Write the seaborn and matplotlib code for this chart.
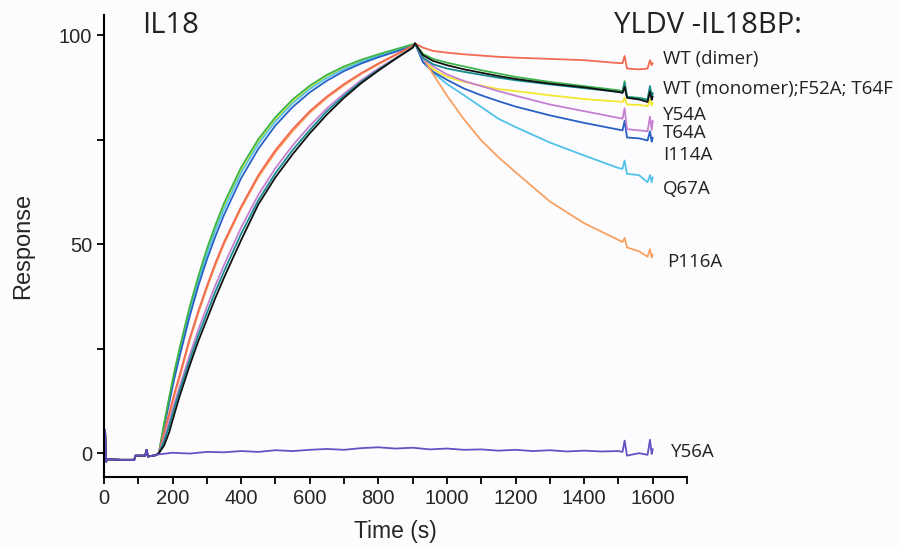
import numpy as np
import pandas as pd
import seaborn as sns
import matplotlib.pyplot as plt
from matplotlib.ticker import MultipleLocator

sns.set_theme(style="ticks")
plt.rcParams['font.family'] = ['Liberation Sans', 'DejaVu Sans']

# shared time points (s)
t_base = [0, 3, 6, 10, 20, 50, 88, 92, 120, 124, 128, 150, 155]
t_assoc = [160, 175, 190, 205, 220, 250, 275, 300, 325, 350, 400, 450, 500, 550, 600, 650, 700,
           750, 800, 850, 900]
t_dissoc = [907, 930, 960, 1000, 1050, 1100, 1150, 1200, 1300, 1400, 1500,
            1512, 1518, 1525, 1560, 1585, 1592, 1597, 1600]

baseline = [-1.0, 5.5, -2.0, -1.5, -1.5, -1.6, -1.6, -0.6, -0.6, 0.8, -0.8, -0.5, -0.3]

# association phase
wt_dimer_on = [0, 4.8, 9.5, 14.2, 18.5, 27.5, 34.0, 40.0, 45.5, 50.5, 59.0, 66.5, 72.5, 77.5, 81.8,
               85.3, 88.3, 90.9, 93.2, 95.3, 97.4]
p116a_on = [0, 4.5, 9.0, 13.7, 18.0, 27.0, 33.5, 39.4, 45.0, 50.0, 58.6, 66.0, 72.0, 77.0, 81.4,
            85.0, 88.0, 90.7, 93.0, 95.2, 97.4]
t64a_on = [0, 3.5, 7.5, 11.8, 15.8, 23.5, 29.5, 35.0, 40.2, 45.0, 54.0, 61.8, 68.2, 73.6, 78.3,
           82.5, 86.0, 89.2, 92.0, 94.5, 97.0]
t64f_on = [0, 2.8, 6.5, 10.8, 14.8, 22.3, 28.2, 33.5, 38.7, 43.5, 52.5, 60.5, 67.0, 72.5, 77.3,
           81.8, 85.5, 88.8, 91.7, 94.4, 97.0]
wt_mono_on = [0, 1.8, 5.0, 9.3, 13.5, 21.0, 26.8, 32.0, 37.2, 42.0, 51.0, 59.5, 66.0, 71.5, 76.5,
              81.0, 85.0, 88.5, 91.5, 94.3, 97.0]
f52a_on = [0, 7.0, 13.4, 19.5, 25.0, 35.1, 42.3, 48.9, 54.6, 59.8, 68.4, 75.1, 80.4, 84.6, 87.9,
           90.5, 92.5, 94.1, 95.4, 96.6, 97.8]
y54a_on = [0, 6.8, 13.0, 19.0, 24.5, 34.5, 41.7, 48.2, 53.9, 59.0, 67.7, 74.5, 79.9, 84.1, 87.5,
           90.1, 92.2, 93.8, 95.2, 96.4, 97.6]
q67a_on = [0, 6.6, 12.6, 18.6, 24.0, 34.0, 41.1, 47.6, 53.3, 58.4, 67.1, 74.0, 79.4, 83.7, 87.1,
           89.8, 91.9, 93.6, 95.0, 96.2, 97.5]
i114a_on = [0, 6.2, 12.0, 17.8, 23.0, 32.8, 40.0, 46.3, 51.9, 57.0, 65.8, 72.8, 78.4, 82.8, 86.3,
            89.1, 91.4, 93.2, 94.7, 96.0, 97.4]

# dissociation phase
wt_dimer_off = [98, 97.0, 96.2, 95.8, 95.4, 95.1, 94.8, 94.6, 94.3, 94.0, 93.3, 93.3, 95.0, 92.0, 91.8, 92.0, 94.0, 92.8, 93.3]
f52a_off = [98, 95.5, 94.3, 93.4, 92.5, 91.6, 90.8, 90.0, 88.8, 87.8, 86.8, 86.6, 89.0, 85.2, 85.0, 84.6, 87.5, 85.3, 86.0]
wt_mono_off = [98, 95.2, 93.8, 92.8, 91.8, 91.0, 90.2, 89.5, 88.4, 87.5, 86.4, 86.2, 87.6, 85.0, 84.6, 84.0, 86.5, 84.5, 85.3]
t64f_off = [98, 94.6, 93.0, 92.0, 91.2, 90.5, 89.8, 89.2, 88.2, 87.3, 86.4, 86.2, 88.5, 85.2, 84.9, 84.5, 87.8, 85.0, 86.2]
y54a_off = [98, 94.0, 91.8, 90.0, 88.8, 87.9, 87.1, 86.6, 85.6, 84.7, 84.1, 84.0, 85.0, 83.4, 83.3, 83.0, 84.5, 83.2, 83.8]
t64a_off = [98, 94.5, 92.5, 90.6, 89.0, 87.8, 86.6, 85.5, 83.4, 81.8, 80.2, 80.0, 82.5, 77.5, 77.2, 77.0, 80.5, 77.3, 79.5]
i114a_off = [98, 93.5, 91.2, 89.3, 87.2, 85.6, 84.2, 82.9, 80.8, 79.0, 77.4, 77.2, 79.5, 75.5, 75.3, 74.8, 77.0, 74.5, 75.5]
q67a_off = [98, 93.8, 91.0, 88.3, 85.6, 82.8, 80.0, 78.0, 74.3, 71.2, 68.2, 68.0, 70.0, 66.8, 66.5, 64.8, 66.5, 64.8, 66.0]
p116a_off = [98, 94.6, 90.6, 85.5, 79.8, 74.8, 70.8, 67.2, 60.2, 55.0, 51.0, 50.5, 51.5, 49.2, 48.3, 47.0, 48.8, 46.8, 47.5]

# Y56A: no binding
t_y56a = [160, 200, 250, 300, 350, 400, 450, 500, 550, 600, 650, 700, 750, 800, 850, 900, 950, 1000,
          1050, 1100, 1150, 1200, 1250, 1300, 1350, 1400, 1450, 1500, 1512, 1518, 1525, 1560, 1585,
          1592, 1597, 1600]
y56a = [-0.3, 0.1, -0.1, 0.3, 0.2, 0.5, 0.3, 0.7, 0.5, 0.8, 1.0, 0.8, 1.2, 1.4, 1.1, 1.3, 0.9, 1.1,
        0.8, 0.9, 0.6, 0.8, 0.5, 0.7, 0.4, 0.6, 0.4, 0.5, 0.3, 3.0, -0.6, 0.0, -0.4, 3.2, -0.2, 1.0]

curves = {
    "Y54A": (y54a_on, y54a_off),
    "Q67A": (q67a_on, q67a_off),
    "I114A": (i114a_on, i114a_off),
    "F52A": (f52a_on, f52a_off),
    "P116A": (p116a_on, p116a_off),
    "WT dimer": (wt_dimer_on, wt_dimer_off),
    "T64A": (t64a_on, t64a_off),
    "T64F": (t64f_on, t64f_off),
    "WT monomer": (wt_mono_on, wt_mono_off),
}
colors = {
    "Y54A": "#f3e62e", "Q67A": "#52c2e8", "I114A": "#2860c4", "F52A": "#3db54a",
    "P116A": "#f9a05e", "WT dimer": "#f26a50", "T64A": "#c580d2", "T64F": "#178a90",
    "WT monomer": "#111111", "Y56A": "#6650c4",
}

rows = []
for name, (on, off) in curves.items():
    t = t_base + t_assoc + t_dissoc
    r = baseline + on + off
    rows.append(pd.DataFrame({"time": t, "response": r, "curve": name}))
rows.append(pd.DataFrame({"time": t_base + t_y56a, "response": baseline + y56a, "curve": "Y56A"}))
df = pd.concat(rows, ignore_index=True)

bg = "#fcfcfe"
fig = plt.figure(figsize=(8.99, 5.48), dpi=100, facecolor=bg)
ax = fig.add_axes([0.1157, 0.1296, 0.6485, 0.843], facecolor=bg)

order = list(curves.keys()) + ["Y56A"]
sns.lineplot(data=df, x="time", y="response", hue="curve", hue_order=order, palette=colors,
             estimator=None, sort=False, lw=1.3, legend=False, ax=ax)

ax.set_xlim(0, 1700)
ax.set_ylim(-5.7, 104.8)
ax.xaxis.set_major_locator(MultipleLocator(200))
ax.xaxis.set_minor_locator(MultipleLocator(100))
ax.yaxis.set_major_locator(MultipleLocator(50))
ax.yaxis.set_minor_locator(MultipleLocator(25))
ax.tick_params(which="both", length=5, width=1.3, color="black", labelsize=14.5, direction="out")
sns.despine(ax=ax)
for s in ["left", "bottom"]:
    ax.spines[s].set_color("black")
    ax.spines[s].set_linewidth(1.5)
ax.set_xlabel("Time (s)", fontsize=16.5, labelpad=9)
ax.set_ylabel("Response", fontsize=17, labelpad=18)

lab = dict(family=["Open Sans", "DejaVu Sans"], color="#222222", va="center", clip_on=False)
ax.text(1629, 94.2, "WT (dimer)", fontsize=13.5, **lab)
ax.text(1629, 87.2, "WT (monomer);F52A; T64F", fontsize=13.5, **lab)
ax.text(1629, 80.9, "Y54A", fontsize=13.5, **lab)
ax.text(1629, 76.5, "T64A", fontsize=13.5, **lab)
ax.text(1629, 71.3, "I114A", fontsize=13.5, **lab)
ax.text(1629, 63.3, "Q67A", fontsize=13.5, **lab)
ax.text(1642, 45.8, "P116A", fontsize=13.5, **lab)
ax.text(1654, 0.2, "Y56A", fontsize=13.5, **lab)

title = dict(family=["Open Sans", "DejaVu Sans"], color="#222222", va="baseline", fontsize=21)
ax.text(111, 100.5, "IL18", **title)
ax.text(1486, 100.5, "YLDV -IL18BP:", **title)

fig.savefig("out.png", dpi=100, facecolor=bg)
